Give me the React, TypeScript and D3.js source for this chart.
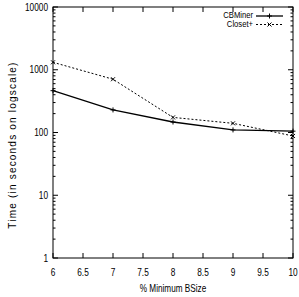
import React, { useEffect, useRef } from 'react';
import * as d3 from 'd3';

const minBSize = [6, 7, 8, 9, 10];
const cbminer = [464, 229, 147, 110, 105];
const closet = [1314, 706, 174, 140, 88];
const xTicks = [6, 6.5, 7, 7.5, 8, 8.5, 9, 9.5, 10];
const yTicks = [1, 10, 100, 1000, 10000];

const App: React.FC = () => {
    const ref = useRef<SVGSVGElement>(null);

    useEffect(() => {
        if (!ref.current) return;
        const svg = d3.select(ref.current);
        svg.selectAll('*').remove();

        const margin = { top: 7, right: 6, bottom: 39, left: 53 };
        const width = 299;
        const height = 297;
        const x = d3.scaleLinear().domain([6, 10]).range([margin.left, width - margin.right]);
        const y = d3.scaleLog().domain([1, 10000]).range([height - margin.bottom, margin.top]);
        const font = '"Liberation Sans", Arial, sans-serif';

        const g = svg.append('g');

        // condensed text helper (the original uses a narrow Helvetica)
        const label = (tx: number, ty: number, s: string, anchor: string, size = 10, sx = 0.83) => {
            g.append('g')
                .attr('transform', `translate(${tx},${ty}) scale(${sx},1)`)
                .append('text')
                .attr('text-anchor', anchor).attr('dy', '0.35em')
                .attr('font-family', font).attr('font-size', size)
                .text(s);
        };

        // minor ticks for log axis
        const minor: number[] = [];
        for (let d = 1; d < 10000; d *= 10) {
            for (let k = 2; k < 10; k++) minor.push(d * k);
        }

        // y ticks (left and mirrored right)
        yTicks.forEach((t) => {
            g.append('line').attr('x1', x(6)).attr('x2', x(6) + 5).attr('y1', y(t)).attr('y2', y(t)).attr('stroke', '#000');
            g.append('line').attr('x1', x(10)).attr('x2', x(10) - 5).attr('y1', y(t)).attr('y2', y(t)).attr('stroke', '#000');
            label(x(6) - 5, y(t), String(t), 'end');
        });
        minor.forEach((t) => {
            g.append('line').attr('x1', x(6)).attr('x2', x(6) + 2.5).attr('y1', y(t)).attr('y2', y(t)).attr('stroke', '#000');
            g.append('line').attr('x1', x(10)).attr('x2', x(10) - 2.5).attr('y1', y(t)).attr('y2', y(t)).attr('stroke', '#000');
        });

        // x ticks (bottom and mirrored top)
        xTicks.forEach((t) => {
            g.append('line').attr('x1', x(t)).attr('x2', x(t)).attr('y1', y(1)).attr('y2', y(1) - 5).attr('stroke', '#000');
            g.append('line').attr('x1', x(t)).attr('x2', x(t)).attr('y1', y(10000)).attr('y2', y(10000) + 5).attr('stroke', '#000');
            label(x(t), y(1) + 14, String(t), 'middle');
        });

        // frame
        g.append('rect')
            .attr('x', x(6)).attr('y', y(10000))
            .attr('width', x(10) - x(6)).attr('height', y(1) - y(10000))
            .attr('fill', 'none').attr('stroke', '#000').attr('stroke-width', 1);

        const line = d3.line<number>()
            .x((_, i) => x(minBSize[i]))
            .y((d) => y(d));

        const plus = (cx: number, cy: number) => {
            g.append('path')
                .attr('d', `M${cx - 2.5},${cy}H${cx + 2.5}M${cx},${cy - 2.5}V${cy + 2.5}`)
                .attr('stroke', '#000').attr('stroke-width', 1);
        };
        const cross = (cx: number, cy: number) => {
            g.append('path')
                .attr('d', `M${cx - 2},${cy - 2}L${cx + 2},${cy + 2}M${cx - 2},${cy + 2}L${cx + 2},${cy - 2}`)
                .attr('stroke', '#000').attr('stroke-width', 1);
        };

        // CBMiner
        g.append('path').datum(cbminer).attr('d', line)
            .attr('fill', 'none').attr('stroke', '#000').attr('stroke-width', 1.3);
        cbminer.forEach((v, i) => plus(x(minBSize[i]), y(v)));

        // Closet+
        g.append('path').datum(closet).attr('d', line)
            .attr('fill', 'none').attr('stroke', '#000').attr('stroke-width', 1)
            .attr('stroke-dasharray', '2,2');
        closet.forEach((v, i) => cross(x(minBSize[i]), y(v)));

        // legend
        const lx0 = 256;
        const lx1 = 283;
        label(lx0 - 3, 15, 'CBMiner', 'end', 8.5, 0.9);
        g.append('line').attr('x1', lx0).attr('x2', lx1).attr('y1', 16).attr('y2', 16)
            .attr('stroke', '#000').attr('stroke-width', 1.3);
        plus((lx0 + lx1) / 2, 16);
        label(lx0 - 3, 24.5, 'Closet+', 'end', 8.5, 0.9);
        g.append('line').attr('x1', lx0).attr('x2', lx1).attr('y1', 24.5).attr('y2', 24.5)
            .attr('stroke', '#000').attr('stroke-width', 1).attr('stroke-dasharray', '2,2');
        cross((lx0 + lx1) / 2, 24.5);

        // axis labels
        label((x(6) + x(10)) / 2, 288, '% Minimum BSize', 'middle', 10, 0.82);
        g.append('text')
            .attr('transform', `translate(16,145) rotate(-90)`)
            .attr('text-anchor', 'middle').attr('font-family', font).attr('font-size', 10)
            .attr('letter-spacing', 1.2)
            .text('Time (in seconds on logscale)');
    }, []);

    return (
        <svg ref={ref} width={299} height={297}
            style={{ position: 'absolute', left: 0, top: 0, background: '#fff' }} />
    );
};

export default App;
